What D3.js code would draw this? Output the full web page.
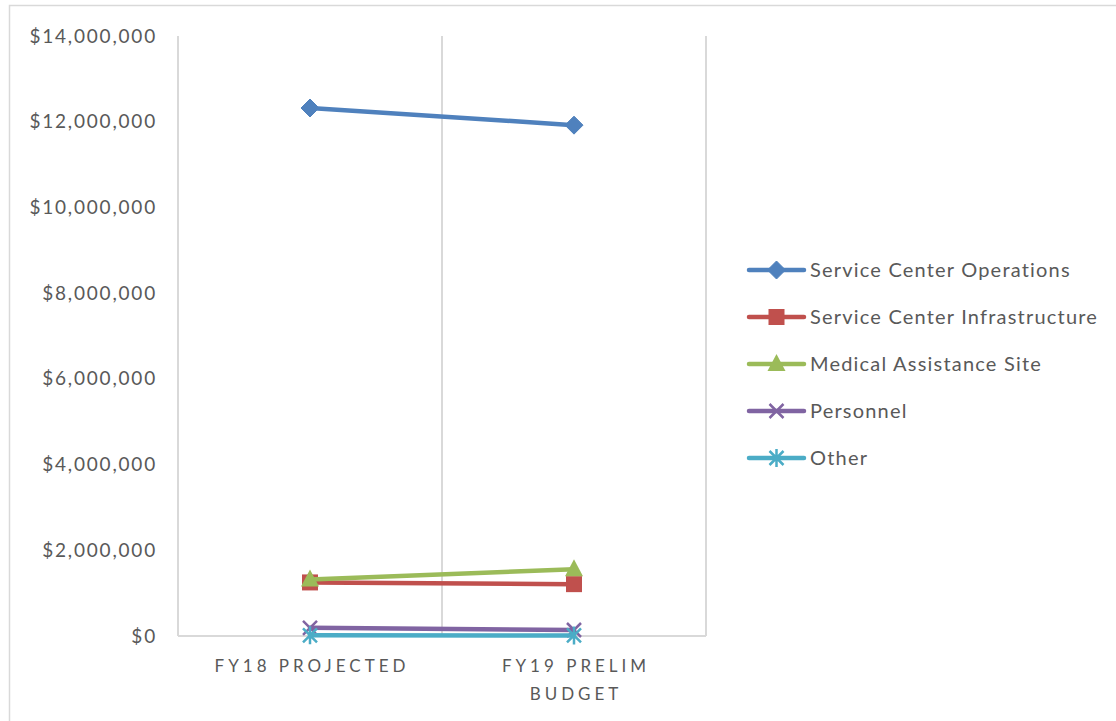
<!DOCTYPE html>
<html>
<head>
<meta charset="utf-8">
<script src="https://cdn.jsdelivr.net/npm/d3@7"></script>
<style>
  html, body { margin: 0; padding: 0; background: #fff; }
  svg { display: block; }
  text { font-family: Lato, "Open Sans", sans-serif; fill: #595959; }
</style>
</head>
<body>
<svg id="chart" width="1116" height="721"></svg>
<script>
// Budget categories (x axis)
const categories = ["FY18 PROJECTED", "FY19 PRELIM BUDGET"];
const categoryLines = [["FY18 PROJECTED"], ["FY19 PRELIM", "BUDGET"]];

// Series names, values (dollars) per category, colours and marker shapes
const seriesNames = ["Service Center Operations", "Service Center Infrastructure", "Medical Assistance Site", "Personnel", "Other"];
const serviceCenterOperations = [12320000, 11920000];
const serviceCenterInfrastructure = [1250000, 1210000];
const medicalAssistanceSite = [1320000, 1560000];
const personnel = [190000, 140000];
const other = [15000, 12000];
const seriesValues = [serviceCenterOperations, serviceCenterInfrastructure, medicalAssistanceSite, personnel, other];
const seriesColors = ["#4f81bd", "#c0504d", "#9bbb59", "#8064a2", "#4bacc6"];
const seriesMarkers = ["diamond", "square", "triangle", "x", "star"];

// Y axis ticks
const yTicks = [0, 2000000, 4000000, 6000000, 8000000, 10000000, 12000000, 14000000];

const svg = d3.select("#chart");

// outer chart border
svg.append("rect")
  .attr("x", 9.5).attr("y", 5.5)
  .attr("width", 1116).attr("height", 730)
  .attr("fill", "none").attr("stroke", "#d9d9d9").attr("stroke-width", 1.5);

const plot = { left: 178, right: 706, top: 36, bottom: 636 };

const x = d3.scaleBand().domain(categories).range([plot.left, plot.right]);
const y = d3.scaleLinear().domain([0, 14000000]).range([plot.bottom, plot.top]);

// vertical gridlines at category boundaries
const bounds = categories.map(c => x(c)).concat([plot.right]);
svg.append("g").selectAll("line").data(bounds).join("line")
  .attr("x1", d => d).attr("x2", d => d)
  .attr("y1", plot.top).attr("y2", plot.bottom)
  .attr("stroke", "#d9d9d9").attr("stroke-width", 2);

// horizontal axis line
svg.append("line")
  .attr("x1", plot.left).attr("x2", plot.right)
  .attr("y1", plot.bottom).attr("y2", plot.bottom)
  .attr("stroke", "#d9d9d9").attr("stroke-width", 2);

// y axis labels
const yFmt = d => "$" + d3.format(",")(d);
const yAxis = d3.axisLeft(y).tickValues(yTicks).tickFormat(yFmt).tickSize(0).tickPadding(21);
const yg = svg.append("g").attr("transform", `translate(${plot.left},0)`).call(yAxis);
yg.select(".domain").remove();
yg.selectAll("text").attr("font-size", 19).attr("fill", "#595959")
  .style("font-family", "Lato, 'Open Sans', sans-serif")
  .style("letter-spacing", "1.8px");

// x axis labels
const xg = svg.append("g");
categories.forEach((c, i) => {
  const cx = x(c) + x.bandwidth() / 2 + 2;
  const t = xg.append("text")
    .attr("y", 672)
    .attr("text-anchor", "middle")
    .attr("font-size", 17)
    .style("letter-spacing", "4px");
  categoryLines[i].forEach((ln, j) => {
    t.append("tspan").attr("x", cx).attr("dy", j === 0 ? 0 : 28).text(ln);
  });
});

// marker drawing
function drawMarker(g, type, color, cx, cy) {
  if (type === "diamond") {
    g.append("path").attr("d", `M${cx},${cy - 9}L${cx + 9},${cy}L${cx},${cy + 9}L${cx - 9},${cy}Z`)
      .attr("fill", color).attr("stroke", color).attr("stroke-width", 1).attr("stroke-linejoin", "round");
  } else if (type === "square") {
    g.append("rect").attr("x", cx - 8).attr("y", cy - 8).attr("width", 16).attr("height", 16)
      .attr("fill", color);
  } else if (type === "triangle") {
    g.append("path").attr("d", `M${cx},${cy - 10}L${cx + 9},${cy + 7}L${cx - 9},${cy + 7}Z`)
      .attr("fill", color);
  } else if (type === "x") {
    g.append("path").attr("d", `M${cx - 7},${cy - 7}L${cx + 7},${cy + 7}M${cx - 7},${cy + 7}L${cx + 7},${cy - 7}`)
      .attr("stroke", color).attr("stroke-width", 2.5).attr("fill", "none");
  } else if (type === "star") {
    g.append("path").attr("d", `M${cx - 7},${cy - 7}L${cx + 7},${cy + 7}M${cx - 7},${cy + 7}L${cx + 7},${cy - 7}M${cx},${cy - 9}L${cx},${cy + 9}`)
      .attr("stroke", color).attr("stroke-width", 2.5).attr("fill", "none");
  }
}

// series lines and markers
const line = d3.line()
  .x((d, i) => x(categories[i]) + x.bandwidth() / 2)
  .y(d => y(d));

seriesValues.forEach((vals, s) => {
  const g = svg.append("g");
  g.append("path").datum(vals).attr("d", line)
    .attr("fill", "none").attr("stroke", seriesColors[s]).attr("stroke-width", 4.5)
    .attr("stroke-linecap", "round");
  vals.forEach((v, i) => drawMarker(g, seriesMarkers[s], seriesColors[s], x(categories[i]) + x.bandwidth() / 2, y(v)));
});

// legend
const legend = svg.append("g");
seriesNames.forEach((name, s) => {
  const ly = 270 + s * 47;
  legend.append("line").attr("x1", 749).attr("x2", 804).attr("y1", ly).attr("y2", ly)
    .attr("stroke", seriesColors[s]).attr("stroke-width", 4.5).attr("stroke-linecap", "round");
  drawMarker(legend, seriesMarkers[s], seriesColors[s], 776.5, ly);
  legend.append("text").attr("x", 810).attr("y", ly + 7).attr("font-size", 20)
    .style("letter-spacing", "1.2px").text(name);
});
</script>
</body>
</html>
